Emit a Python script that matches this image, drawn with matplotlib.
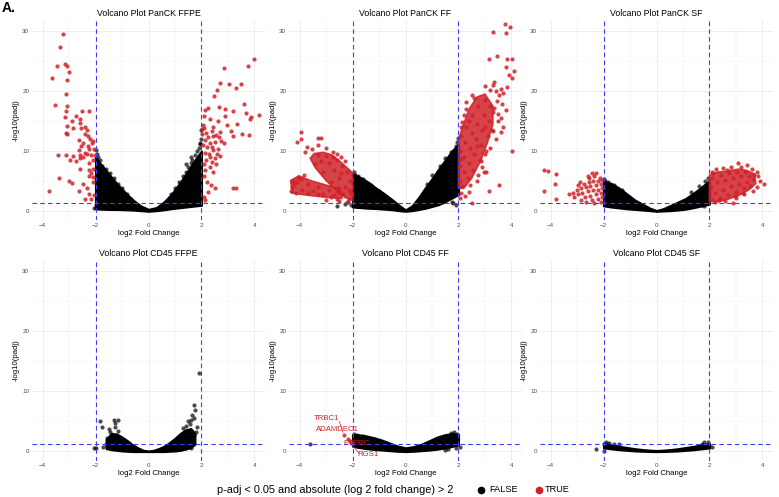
import matplotlib
matplotlib.use("Agg")
import matplotlib.pyplot as plt
from matplotlib.lines import Line2D

plt.rcParams["font.family"] = ["Liberation Sans", "DejaVu Sans"]

RED = "#cf2228"
BLUE = "#3b3bff"

titles = ["Volcano Plot PanCK FFPE", "Volcano Plot PanCK FF", "Volcano Plot PanCK SF",
          "Volcano Plot CD45 FFPE", "Volcano Plot CD45 FF", "Volcano Plot CD45 SF"]

# ---- PanCK FFPE ----
p1_env_x = [-2.0, -1.8, -1.5, -1.2, -0.9, -0.6, -0.3, 0.0, 0.3, 0.6, 0.9, 1.2, 1.5, 1.8, 2.0]
p1_env_hi = [9.0, 7.8, 6.2, 4.6, 3.2, 1.9, 0.9, 0.3, 0.6, 1.6, 3.0, 4.8, 6.8, 8.8, 10.0]
p1_env_lo = [0.4, 0.35, 0.3, 0.3, 0.25, 0.2, 0.1, 0.0, 0.1, 0.25, 0.45, 0.6, 0.75, 0.9, 1.0]
p1_blk_x = [-1.98, -1.95, -1.9, -1.85, -1.75, -1.6, -1.45, -1.3, -1.15, -1.0, -0.8, -0.65, -2.05, -2.0,
            1.98, 1.95, 1.9, 1.85, 1.75, 1.65, 1.6, 1.5, 1.4, 1.3, 1.15, 1.0, 0.85, 1.93, 1.97, 1.43, 1.62]
p1_blk_y = [10.2, 9.6, 9.0, 8.6, 7.6, 7.0, 6.4, 5.6, 4.6, 3.8, 2.9, 2.1, 0.6, 1.0,
            12.0, 11.2, 10.6, 10.0, 9.3, 8.6, 8.0, 7.4, 6.6, 5.8, 4.8, 3.8, 2.8, 11.3, 13.5, 7.9, 9.1]
p1_red_x = [-3.22, -3.36, -3.17, -3.47, -3.08, -3.01, -3.65, -3.09, -3.12, -3.54, -3.06, -2.51, -2.26,
            -3.11, -2.74, -3.16, -2.58, -2.89, -3.06, -2.59, -2.84, -2.54, -2.40, -2.34, -3.13, -3.06,
            -2.40, -2.30, -2.21, -2.61, -2.13, -2.08, -2.46, -2.30, -2.56, -2.26, -2.06, -2.61, -2.41,
            -3.43, -3.13, -2.58, -2.49, -2.34, -2.18, -2.02, -2.08, -2.26, -2.73, -2.58, -2.84, -2.97,
            -2.58, -2.24, -2.10, -2.16, -2.26, -2.11, -3.37, -3.02, -2.90, -2.11, -2.46, -2.34, -2.64,
            -2.26, -3.75, -2.39, -2.17, -2.07,
            3.98, 3.75, 2.85, 2.71, 3.04, 3.51, 3.32, 2.59, 2.47, 3.60, 2.65, 2.26, 2.15, 2.88, 3.19,
            3.70, 2.89, 3.86, 3.83, 4.18, 2.10, 2.31, 2.63, 2.07, 2.44, 2.95, 3.35, 3.12, 3.52, 3.80,
            3.19, 2.02, 2.03, 2.10, 2.18, 2.40, 2.54, 2.69, 2.65, 2.25, 2.44, 2.12, 2.31, 2.50, 2.06,
            2.21, 2.40, 2.75, 2.84, 2.44, 2.63, 2.59, 2.27, 2.12, 2.34, 2.50, 2.69, 2.18, 2.40, 2.10,
            2.56, 2.31, 2.15, 2.44, 2.08, 2.21, 2.35, 2.25, 2.50, 2.08, 2.13, 3.19, 3.30]
p1_red_y = [29.5, 27.3, 24.5, 24.2, 24.2, 23.1, 22.1, 21.8, 19.5, 17.7, 17.5, 16.7, 16.7,
            16.6, 15.8, 15.6, 15.3, 15.1, 14.2, 14.7, 13.9, 13.8, 14.1, 13.5, 13.1, 12.8,
            12.9, 12.5, 12.1, 11.9, 11.3, 11.7, 11.3, 10.8, 10.9, 10.3, 10.4, 10.2, 9.7,
            9.4, 9.4, 9.4, 9.1, 9.5, 9.3, 9.3, 8.6, 8.1, 8.4, 8.8, 9.2, 8.5,
            7.1, 6.9, 7.1, 6.3, 5.9, 5.7, 5.6, 5.0, 4.7, 4.9, 4.5, 3.9, 3.4,
            2.8, 3.3, 2.0, 2.0, 2.7,
            25.3, 24.2, 23.8, 21.4, 21.2, 21.1, 20.5, 20.1, 19.1, 17.8, 17.4, 17.1, 16.8, 17.0, 16.7,
            16.4, 15.8, 15.7, 15.3, 16.0, 15.8, 15.4, 15.1, 14.3, 14.1, 14.3, 14.5, 13.4, 12.8, 12.7,
            12.6, 13.7, 12.9, 13.8, 13.1, 13.4, 12.7, 13.2, 12.3, 12.4, 12.5, 11.8, 11.3, 11.6, 11.0,
            10.7, 10.7, 11.7, 11.4, 10.2, 10.4, 9.6, 9.6, 9.7, 9.1, 8.9, 9.2, 8.5, 8.2, 7.9,
            7.9, 7.4, 6.8, 6.6, 5.9, 4.9, 4.3, 3.2, 3.8, 2.4, 1.9, 3.9, 3.9]

# ---- PanCK FF ----
p2_env_x = [-2.0, -1.7, -1.4, -1.1, -0.8, -0.5, -0.25, 0.0, 0.25, 0.5, 0.75, 1.0, 1.25, 1.5, 1.75, 2.0]
p2_env_hi = [6.2, 5.6, 4.8, 3.8, 2.9, 1.9, 1.0, 0.2, 0.9, 2.3, 3.9, 5.4, 7.0, 8.5, 10.0, 11.2]
p2_env_lo = [0.7, 0.6, 0.5, 0.45, 0.35, 0.25, 0.1, 0.0, 0.1, 0.3, 0.5, 0.8, 1.1, 1.6, 2.2, 2.8]
p2_blk_x = [-2.6, -2.19, -1.95, -1.9, -1.8, -1.6, -1.3, -1.0, 1.81, 1.9, 1.75, 1.96, 1.98, 1.9,
            1.7, 1.5, 1.3, 1.0, 0.8, -2.05, -2.3]
p2_blk_y = [0.85, 1.5, 6.6, 6.0, 5.9, 5.3, 4.4, 3.4, 1.3, 1.0, 1.5, 11.6, 12.2, 10.9,
            9.8, 8.8, 7.6, 6.0, 4.6, 1.0, 1.2]
# outlines of the packed red areas
p2_upL_x = [-2.0, -2.0, -2.2, -2.5, -2.8, -3.1, -3.45, -3.6, -3.4, -3.0, -2.6, -2.3]
p2_upL_y = [1.8, 6.4, 7.2, 8.4, 9.4, 9.8, 9.6, 8.8, 7.2, 5.1, 3.4, 2.3]
p2_loL_x = [-4.34, -4.03, -3.59, -2.96, -2.46, -2.40, -2.96, -3.59, -4.28]
p2_loL_y = [5.1, 5.9, 5.1, 4.3, 3.7, 2.1, 2.3, 2.6, 3.0]
p2_R_x = [2.0, 2.0, 2.2, 2.4, 2.7, 3.0, 3.3, 3.3, 3.1, 2.85, 2.5, 2.2]
p2_R_y = [3.8, 12.0, 14.5, 17.0, 19.0, 19.5, 17.5, 14.5, 11.5, 8.5, 5.5, 3.8]
p2_red_x = [-3.93, -4.09, -3.96, -3.31, -3.18, -3.8, -3.71, -3.55, -3.0, -2.75, -2.6, -2.45, -2.3,
            -3.3, -4.24, -4.31, -4.2, -4.05, -3.85, -3.7, -3.3, -2.52, -2.59, -2.8, -3.0, -2.2, -2.15,
            -2.05, -2.1, -2.2, -2.3, -2.4, -2.5, -2.6, -2.7, -2.8, -2.9, -3.0, -3.1, -3.2, -3.3, -3.4,
            -2.35, -2.55, -2.15, -2.45, -2.75,
            -4.3, -4.1, -3.9, -3.7, -3.5, -3.3, -3.1, -2.9, -2.7, -2.55, -4.15, -3.95,
            3.76, 3.94, 3.29, 3.79, 3.44, 3.16, 3.85, 4.04, 3.79, 3.91, 4.04, 4.08, 3.35, 3.01, 3.85,
            3.54, 3.64, 3.79, 3.48, 3.6, 3.29, 4.04, 3.54, 3.04, 3.14, 2.51, 2.85, 3.2, 3.4, 2.5, 2.3,
            3.45, 3.35, 3.5, 3.4, 3.2, 3.0, 2.95, 2.7, 2.4, 2.25, 2.05, 2.1, 3.3, 3.6, 3.7, 2.2, 2.1,
            3.6, 3.7,
            2.05, 2.05, 2.05, 2.1, 2.15, 2.2, 2.2, 2.25, 2.3, 2.35, 2.4, 2.45, 2.5, 2.5, 2.55, 2.6,
            2.65, 2.7, 2.75, 2.8, 2.85, 2.9, 2.95, 3.0, 3.05, 3.1, 3.15, 3.2, 3.25, 2.6, 2.4, 2.3,
            2.15, 2.75, 2.9, 3.3, 3.0, 2.7, 2.45, 2.1]
p2_red_y = [13.2, 11.5, 12.1, 12.2, 12.2, 9.8, 10.7, 10.3, 10.5, 9.9, 9.5, 9.0, 8.3,
            11.0, 5.1, 3.4, 4.5, 5.6, 6.1, 3.0, 2.9, 1.7, 2.0, 2.4, 1.9, 1.5, 2.0,
            3.0, 5.0, 6.5, 4.0, 7.5, 5.5, 8.5, 6.8, 4.8, 8.0, 9.2, 6.5, 8.3, 9.4, 7.8,
            2.8, 3.8, 3.6, 6.3, 9.0,
            4.0, 4.9, 3.5, 4.6, 3.3, 4.1, 2.8, 3.6, 2.7, 3.2, 3.1, 5.4,
            31.2, 30.7, 29.9, 29.7, 25.8, 25.3, 25.4, 25.3, 24.0, 22.6, 22.1, 23.4, 21.5, 20.9, 20.6,
            19.3, 17.9, 16.8, 15.1, 13.2, 13.4, 10.1, 4.3, 6.5, 3.3, 1.4, 8.4, 20.2, 20.0, 19.3, 18.2,
            18.4, 17.2, 16.2, 12.0, 10.5, 9.5, 6.5, 5.0, 3.2, 2.6, 2.2, 3.0, 21.0, 20.4, 19.6, 16.0, 14.0,
            15.5, 14.0,
            5.0, 7.5, 10.0, 12.5, 4.2, 6.5, 9.0, 11.5, 14.0, 5.5, 8.0, 10.5, 13.0, 16.0, 6.8, 9.5,
            12.0, 14.5, 17.5, 8.5, 11.0, 13.5, 16.0, 18.5, 10.0, 12.5, 15.0, 17.5, 13.5, 18.8, 15.0, 17.0,
            14.8, 6.0, 7.3, 16.5, 14.0, 10.8, 4.3, 8.7]

# ---- PanCK SF ----
p3_env_x = [-2.0, -1.7, -1.4, -1.1, -0.8, -0.5, -0.25, 0.0, 0.25, 0.5, 0.8, 1.1, 1.4, 1.7, 2.0]
p3_env_hi = [5.0, 4.6, 3.8, 2.8, 1.8, 1.1, 0.5, 0.1, 0.4, 0.9, 1.5, 2.1, 3.0, 4.0, 5.1]
p3_env_lo = [0.9, 0.7, 0.55, 0.4, 0.3, 0.2, 0.1, 0.0, 0.05, 0.1, 0.2, 0.35, 0.6, 0.9, 1.2]
p3_blk_x = [-1.97, -1.95, -1.85, -1.6, -1.3, -1.85, -1.7, -1.5, 1.95, 1.85, 1.6, 1.3, 1.7, 1.9, 1.8]
p3_blk_y = [5.4, 5.0, 4.9, 4.3, 3.5, 1.3, 1.0, 0.8, 5.6, 5.0, 4.2, 3.2, 1.1, 1.3, 0.9]
p3_R_x = [2.0, 2.0, 2.3, 2.7, 3.1, 3.4, 3.7, 3.75, 3.5, 3.1, 2.7, 2.35]
p3_R_y = [1.6, 6.0, 6.5, 6.7, 7.0, 6.8, 6.2, 4.6, 3.6, 2.6, 2.0, 1.6]
p3_red_x = [-4.25, -4.1, -3.8, -3.85, -4.25, -3.78,
            -2.45, -2.3, -2.6, -2.15, -2.05, -2.2, -2.4, -2.55, -2.75, -2.9, -2.1, -2.3, -2.5,
            -2.65, -2.85, -3.0, -3.15, -2.05, -2.2, -2.4, -2.6, -2.8, -2.95, -3.1, -2.1, -2.3,
            -2.5, -2.7, -2.05, -2.2, -2.45, -2.65, -2.85, -2.1, -2.35, -3.3, -2.95, -2.55, -2.35,
            2.1, 2.25, 2.5, 2.8, 3.06, 3.4, 3.6, 3.8, 3.85, 3.9, 4.06, 3.8, 3.65, 3.3, 3.0, 2.88,
            2.6, 2.2, 3.2, 2.65,
            2.05, 2.05, 2.1, 2.2, 2.3, 2.4, 2.45, 2.5, 2.6, 2.7, 2.75, 2.8, 2.9, 3.0, 3.05, 3.1,
            3.2, 3.3, 3.35, 3.4, 3.5, 3.55, 3.65, 3.7, 2.15, 2.35, 2.95, 3.25]
p3_red_y = [6.9, 6.7, 6.2, 4.6, 3.4, 2.1,
            6.3, 6.4, 5.9, 5.6, 5.2, 5.0, 5.1, 4.9, 4.6, 4.8, 4.6, 4.3, 4.2,
            4.0, 3.9, 3.5, 3.1, 3.9, 3.6, 3.5, 3.3, 3.1, 2.8, 2.4, 3.0, 2.8,
            2.6, 2.4, 2.3, 2.0, 1.9, 1.6, 1.9, 1.5, 1.4, 2.9, 4.4, 5.5, 5.8,
            6.6, 7.0, 7.2, 7.3, 8.0, 7.7, 7.1, 6.6, 5.8, 5.0, 4.5, 4.0, 3.3, 2.9, 2.2, 1.4,
            1.7, 1.5, 7.3, 6.9,
            2.0, 4.0, 5.6, 3.0, 4.8, 2.2, 6.0, 3.6, 5.2, 2.7, 6.3, 4.2, 5.6, 3.2, 6.6, 4.6,
            5.9, 3.8, 6.5, 4.9, 5.8, 4.2, 5.3, 6.0, 6.3, 1.9, 2.5, 3.0]

# ---- CD45 FFPE ----
p4_env_x = [-1.6, -1.4, -1.2, -1.0, -0.8, -0.6, -0.4, -0.2, 0.0, 0.2, 0.4, 0.6, 0.8, 1.0, 1.2, 1.4, 1.6, 1.75]
p4_env_hi = [2.0, 3.0, 2.9, 2.4, 1.8, 1.1, 0.6, 0.2, 0.05, 0.2, 0.5, 0.9, 1.5, 2.2, 3.0, 3.6, 3.8, 3.0]
p4_env_lo = [0.5, 0.3, 0.2, 0.1, 0.05, 0.0, 0.0, 0.0, 0.0, 0.0, 0.0, 0.0, 0.05, 0.1, 0.2, 0.4, 0.7, 1.2]
p4_blk_x = [-1.83, -1.77, -1.99, -2.05, -1.48, -1.32, -1.16, -1.28, -1.25, -1.6, -1.7, -1.55, -1.45,
            -1.15, 1.72, 1.76, 1.89, 1.82, 1.6, 1.5, 1.6, 1.55, 1.65, 1.7, 1.4, 1.3, 1.7, 1.8, 1.65, 1.5]
p4_blk_y = [5.1, 4.0, 0.5, 0.5, 3.7, 5.2, 5.2, 4.7, 4.1, 1.2, 0.8, 2.3, 3.2,
            3.4, 7.7, 6.9, 13.1, 4.0, 0.5, 5.0, 5.3, 4.6, 6.0, 5.6, 4.2, 3.9, 2.8, 3.3, 1.8, 1.3]

# ---- CD45 FF ----
p5_env_x = [-2.0, -1.8, -1.5, -1.2, -0.9, -0.6, -0.3, 0.0, 0.3, 0.6, 0.9, 1.2, 1.5, 1.8, 2.0]
p5_env_hi = [2.8, 2.8, 2.6, 2.3, 1.9, 1.4, 0.9, 0.6, 0.8, 1.2, 1.8, 2.4, 2.8, 3.0, 2.8]
p5_env_lo = [0.9, 0.7, 0.5, 0.35, 0.25, 0.15, 0.05, 0.0, 0.05, 0.15, 0.25, 0.4, 0.6, 0.9, 1.1]
p5_blk_x = [-3.59, 2.05, 1.95, 1.85, 1.7, -1.95, -1.85, 1.9, -1.6, 1.6, 1.5]
p5_blk_y = [1.2, 0.8, 2.9, 3.2, 3.1, 2.9, 2.7, 0.6, 2.6, 0.4, 0.3]
p5_red_x = [-2.32, -2.16, -2.08, -2.05]
p5_red_y = [2.8, 2.1, 1.7, 1.4]
gene_names = ["TRBC1", "ADAMDEC1", "PTPRC", "RGS1"]
gene_label_x = [-3.0, -2.58, -1.84, -1.42]
gene_label_y = [5.5, 3.7, 1.3, -0.5]

# ---- CD45 SF ----
p6_env_x = [-2.0, -1.7, -1.4, -1.1, -0.8, -0.5, -0.2, 0.0, 0.2, 0.5, 0.8, 1.1, 1.4, 1.7, 2.0]
p6_env_hi = [1.4, 1.1, 0.85, 0.65, 0.45, 0.3, 0.2, 0.15, 0.2, 0.3, 0.45, 0.65, 0.85, 1.1, 1.3]
p6_env_lo = [0.6, 0.45, 0.3, 0.2, 0.1, 0.05, 0.0, 0.0, 0.0, 0.05, 0.1, 0.2, 0.3, 0.45, 0.6]
p6_blk_x = [-2.28, -1.99, -1.92, 1.94, 2.09, 1.81, -1.42, -1.6, -1.8, 1.7, 2.0, -2.0]
p6_blk_y = [0.35, 0.15, 1.55, 1.55, 0.8, 1.55, 1.3, 1.2, 1.4, 1.3, 1.0, 1.2]

panels = [
    (p1_env_x, p1_env_lo, p1_env_hi, p1_blk_x, p1_blk_y, p1_red_x, p1_red_y, []),
    (p2_env_x, p2_env_lo, p2_env_hi, p2_blk_x, p2_blk_y, p2_red_x, p2_red_y,
     [(p2_upL_x, p2_upL_y), (p2_loL_x, p2_loL_y), (p2_R_x, p2_R_y)]),
    (p3_env_x, p3_env_lo, p3_env_hi, p3_blk_x, p3_blk_y, p3_red_x, p3_red_y, [(p3_R_x, p3_R_y)]),
    (p4_env_x, p4_env_lo, p4_env_hi, p4_blk_x, p4_blk_y, [], [], []),
    (p5_env_x, p5_env_lo, p5_env_hi, p5_blk_x, p5_blk_y, p5_red_x, p5_red_y, []),
    (p6_env_x, p6_env_lo, p6_env_hi, p6_blk_x, p6_blk_y, [], [], []),
]

W, H = 779, 497
fig = plt.figure(figsize=(W / 100, H / 100), dpi=100)

lefts = [32, 289, 540]
row_top = [20.2, 260.5]
ax_w, ax_h = 233, 200

axes = []
for i, (ex, elo, ehi, bx, by, rx, ry, polys) in enumerate(panels):
    r, c = divmod(i, 3)
    ax = fig.add_axes([lefts[c] / W, 1 - (row_top[r] + ax_h) / H, ax_w / W, ax_h / H])
    axes.append(ax)
    ax.set_xlim(-4.4, 4.4)
    ax.set_ylim(-1.5, 31.8)
    ax.set_xticks([-4, -2, 0, 2, 4])
    ax.set_xticks([-3, -1, 1, 3], minor=True)
    ax.set_yticks([0, 10, 20, 30])
    ax.set_yticks([5, 15, 25], minor=True)
    ax.grid(which="major", color="#ebebeb", lw=0.6)
    ax.grid(which="minor", color="#f2f2f2", lw=0.35)
    ax.set_axisbelow(True)
    ax.tick_params(which="both", length=0, labelsize=4.5, labelcolor="#4d4d4d", pad=2)
    for s in ax.spines.values():
        s.set_visible(False)

    # packed non-significant genes
    ax.fill_between(ex, elo, ehi, facecolor="black", edgecolor="black", lw=1.6, zorder=2)
    ax.scatter(bx, by, s=9, color="black", alpha=0.7, lw=0, zorder=2.5)
    for px, py in polys:
        ax.fill(px, py, facecolor=RED, edgecolor=RED, alpha=0.85, lw=1.2, zorder=3)
    if rx:
        ax.scatter(rx, ry, s=9, color=RED, alpha=0.85, lw=0, zorder=3.5)

    ax.axvline(-2, color=BLUE, lw=0.8, ls=(0, (4, 3)), zorder=4)
    ax.axvline(2, color=BLUE, lw=0.8, ls=(0, (4, 3)), zorder=4)
    ax.axhline(1.3, color=BLUE, lw=0.8, ls=(0, (4, 3)), zorder=4)

    ax.set_title(titles[i], fontsize=6.3, pad=3)
    ax.set_xlabel("log2 Fold Change", fontsize=5.6, labelpad=1.5)
    ax.set_ylabel("-log10(padj)", fontsize=5.6, labelpad=2)

# gene labels on CD45 FF
ax5 = axes[4]
for name, lx, ly in zip(gene_names, gene_label_x, gene_label_y):
    ax5.text(lx, ly, name, color=RED, fontsize=5.6, ha="center", va="center", zorder=6)
ax5.plot([-2.5, -2.36], [5.0, 3.2], color=RED, lw=0.5, zorder=5)
ax5.plot([-2.02, -1.75], [1.1, -0.3], color=RED, lw=0.5, zorder=5)

fig.text(2 / W, 1 - 8 / H, "A.", fontsize=10, fontweight="bold", va="center", ha="left")

# legend
ly = 1 - 490 / H
fig.text(217 / W, ly, "p-adj < 0.05 and absolute (log 2 fold change) > 2", fontsize=7.8, va="center")
fig.add_artist(Line2D([481 / W], [ly], marker="o", ms=4.5, color="black", transform=fig.transFigure))
fig.text(489 / W, ly, "FALSE", fontsize=6.6, va="center")
fig.add_artist(Line2D([539 / W], [ly], marker="o", ms=4.5, color=RED, transform=fig.transFigure))
fig.text(545 / W, ly, "TRUE", fontsize=6.6, va="center")

fig.savefig("out.png", dpi=100)
